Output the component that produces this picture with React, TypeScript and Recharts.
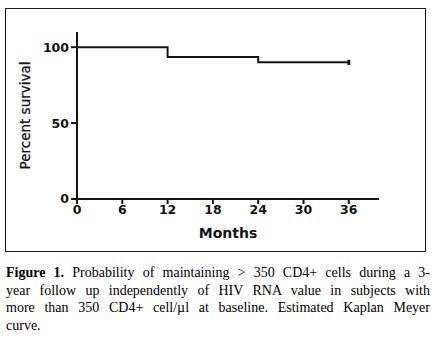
import { LineChart, Line, XAxis, YAxis } from 'recharts'

const months = [0, 12, 12, 24, 24, 36]
const survival = [100, 100, 93.5, 93.5, 90, 90]
const xTicks = [0, 6, 12, 18, 24, 30, 36]
const yTicks = [0, 50, 100]
const captionLines = [
  'Probability of maintaining > 350 CD4+ cells during a 3-',
  'year follow up independently of HIV RNA value in subjects with',
  'more than 350 CD4+ cell/µl at baseline. Estimated Kaplan Meyer',
  'curve.',
]

const data = months.map((m, i) => ({ month: m, pct: survival[i] }))
const ink = '#141414'
const tickFont = { fontFamily: 'DejaVu Sans', fontWeight: 700, fontSize: 12.5, fill: ink }

// censor mark only on the last point
const CensorDot = (props: any) => {
  const { cx, cy, index } = props
  if (index !== data.length - 1) return <g key={index} />
  return <rect key={index} x={cx - 1.5} y={cy - 2.5} width={3} height={5} fill={ink} />
}

export default function App() {
  return (
    <div style={{ position: 'absolute', left: 0, top: 0, width: 437, height: 338, background: '#fff' }}>
      <div
        style={{
          position: 'absolute',
          left: 5,
          top: 8,
          width: 419,
          height: 242,
          border: `1.5px solid ${ink}`,
        }}
      />
      <div style={{ position: 'absolute', left: 0, top: 0 }}>
        <LineChart
          width={437}
          height={250}
          data={data}
          margin={{ top: 32, right: 58, left: 37, bottom: 21 }}
        >
          <XAxis
            dataKey="month"
            type="number"
            domain={[0, 40]}
            ticks={xTicks}
            interval={0}
            height={30}
            stroke={ink}
            strokeWidth={2}
            tickSize={5}
            tick={tickFont}
            tickMargin={1}
            label={{
              value: 'Months',
              position: 'insideBottom',
              offset: -9,
              style: { fontFamily: 'DejaVu Sans', fontWeight: 700, fontSize: 14, fill: ink },
            }}
          />
          <YAxis
            type="number"
            domain={[0, 110]}
            ticks={yTicks}
            interval={0}
            width={40}
            stroke={ink}
            strokeWidth={2}
            tickSize={6}
            tick={tickFont}
            tickMargin={2}
            label={{
              value: 'Percent survival',
              angle: -90,
              position: 'insideLeft',
              offset: -12,
              style: { fontFamily: 'DejaVu Sans', fontSize: 13.5, fill: ink, textAnchor: 'middle', stroke: ink, strokeWidth: 0.3 },
            }}
          />
          <Line
            type="linear"
            dataKey="pct"
            stroke={ink}
            strokeWidth={2}
            dot={<CensorDot />}
            activeDot={false}
            isAnimationActive={false}
          />
        </LineChart>
      </div>
      <div
        style={{
          position: 'absolute',
          left: 6,
          top: 264,
          width: 424,
          fontFamily: '"Liberation Serif", "Times New Roman", serif',
          fontSize: 14,
          lineHeight: '17.5px',
          color: '#000',
        }}
      >
        {captionLines.map((line, i) => (
          <div
            key={i}
            style={{
              textAlign: 'justify',
              textAlignLast: i < captionLines.length - 1 ? 'justify' : 'left',
              whiteSpace: 'nowrap',
            }}
          >
            {i === 0 && <b>Figure 1. </b>}
            {line}
          </div>
        ))}
      </div>
    </div>
  )
}
